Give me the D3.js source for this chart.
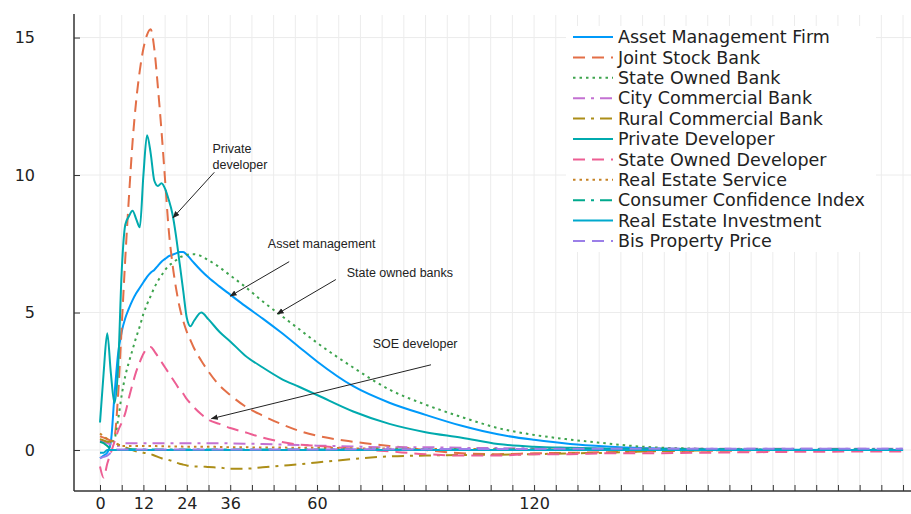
<!DOCTYPE html>
<html><head><meta charset="utf-8">
<script src="https://cdn.jsdelivr.net/npm/d3@7"></script>
<style>body{margin:0;background:#fff}svg{display:block}</style>
</head><body><svg id="c" width="911" height="514"></svg>
<script>
// ---------- DATA ----------
const months = [0,1,2,3,4,5,6,7,8,9,10,11,12,13,14,15,16,17,18,19,20,21,22,23,24,25,26,28,30,33,36,40,45,50,55,60,70,80,90,100,110,120,130,140,150,165,180,200,222];

const assetManagement = [-0.3,-0.2,-0.1,0.3,2.0,3.5,4.3,4.8,5.15,5.45,5.7,5.9,6.1,6.3,6.45,6.55,6.7,6.85,6.95,7.05,7.1,7.15,7.2,7.2,7.1,6.95,6.8,6.52,6.27,5.95,5.65,5.25,4.78,4.28,3.75,3.22,2.32,1.72,1.28,0.88,0.57,0.37,0.22,0.13,0.07,0.03,0.01,0,0];
const jointStockBank = [0.5,0.45,0.4,0.35,0.5,2.0,4.5,7.0,9.2,11.2,12.7,13.8,14.6,15.1,15.3,14.6,13.2,11.6,9.8,8.0,6.8,5.9,5.2,4.7,4.3,4.0,3.7,3.25,2.85,2.35,2.0,1.6,1.25,0.95,0.7,0.52,0.3,0.15,0.0,-0.12,-0.15,-0.12,-0.1,-0.08,-0.05,-0.03,-0.02,0,0];
const stateOwnedBank = [0.3,0.3,0.3,0.25,0.4,1.1,2.0,2.7,3.2,3.65,4.1,4.5,4.95,5.3,5.6,5.9,6.15,6.35,6.55,6.7,6.8,6.9,7.0,7.05,7.1,7.12,7.12,7.05,6.9,6.65,6.35,5.95,5.4,4.9,4.4,3.9,3.0,2.2,1.65,1.2,0.8,0.55,0.38,0.24,0.12,0.05,0.02,0,0];
const cityCommercialBank = [0.35,0.3,0.25,0.2,0.15,0.15,0.2,0.25,0.25,0.25,0.25,0.25,0.25,0.25,0.25,0.25,0.25,0.25,0.25,0.25,0.25,0.25,0.25,0.25,0.25,0.25,0.25,0.25,0.25,0.25,0.24,0.23,0.22,0.2,0.18,0.16,0.13,0.1,0.1,0.08,0.07,0.06,0.05,0.05,0.05,0.05,0.05,0.05,0.05];
const ruralCommercialBank = [0.4,0.35,0.3,0.3,0.25,0.2,0.15,0.1,0.05,0.0,-0.05,-0.08,-0.1,-0.12,-0.15,-0.2,-0.25,-0.3,-0.33,-0.36,-0.4,-0.45,-0.5,-0.53,-0.56,-0.58,-0.6,-0.6,-0.62,-0.64,-0.68,-0.68,-0.63,-0.57,-0.52,-0.45,-0.33,-0.23,-0.2,-0.18,-0.17,-0.15,-0.12,-0.1,-0.05,-0.02,0,0,0];
const privateDeveloper = [1.0,2.8,4.25,2.8,1.7,3.0,6.5,8.2,8.5,8.7,8.4,8.1,10.0,11.45,10.8,9.8,9.6,9.7,9.5,9.1,8.6,7.8,6.8,5.8,4.8,4.5,4.7,5.0,4.75,4.3,3.95,3.45,3.0,2.6,2.3,2.0,1.4,0.95,0.65,0.45,0.22,0.12,0.08,0.05,0.03,0.02,0.01,0,0];
const stateOwnedDeveloper = [-0.6,-1.0,-0.5,-0.1,0.3,0.7,1.0,1.35,1.9,2.4,2.85,3.2,3.5,3.7,3.75,3.6,3.4,3.2,3.0,2.8,2.6,2.4,2.2,2.05,1.85,1.7,1.55,1.3,1.1,0.95,0.8,0.65,0.45,0.3,0.2,0.15,0.05,-0.05,-0.15,-0.2,-0.2,-0.15,-0.15,-0.12,-0.12,-0.1,-0.08,-0.06,-0.05];
const realEstateService = [0.6,0.5,0.4,0.35,0.3,0.2,0.15,0.15,0.15,0.15,0.15,0.15,0.15,0.15,0.15,0.15,0.14,0.14,0.14,0.13,0.13,0.13,0.13,0.12,0.12,0.12,0.12,0.12,0.12,0.11,0.1,0.1,0.09,0.09,0.08,0.08,0.06,0.05,0.04,0.04,0.03,0.02,0.01,0,0,0,0,0,0];
const consumerConfidence = [0.3,0.25,0.15,0.05,0.02,0.0,0.0,0.02,0.03,0.03,0.03,0.03,0.02,0.02,0.02,0.02,0.02,0.02,0.02,0.02,0.02,0.02,0.02,0.02,0.02,0.02,0.02,0.02,0.02,0.02,0.02,0.02,0.02,0.02,0.02,0.02,0.02,0.02,0.02,0.02,0.02,0.02,0.02,0.02,0.02,0.03,0.03,0.03,0.03];
const realEstateInvestment = [-0.1,-0.1,0,0,0,0,0,0,0,0,0,0,0,0,0,0,0,0,0,0,0,0,0,0,0,0,0,0,0,0,0,0,0,0,0,0,0,0,0,0,0,0,0,0,0,0,0,0,0];
const bisPropertyPrice = [-0.3,-0.25,-0.2,-0.1,0,0.02,0.02,0.02,0.02,0.02,0.02,0.02,0.02,0.02,0.02,0.02,0.02,0.02,0.02,0.02,0.02,0.02,0.02,0.02,0.02,0.02,0.02,0.02,0.02,0.02,0.02,0.02,0.02,0.02,0.02,0.02,0.03,0.03,0.03,0.04,0.04,0.04,0.05,0.05,0.05,0.05,0.05,0.05,0.05];

const seriesNames = ["Asset Management Firm","Joint Stock Bank","State Owned Bank","City Commercial Bank","Rural Commercial Bank","Private Developer","State Owned Developer","Real Estate Service","Consumer Confidence Index","Real Estate Investment","Bis Property Price"];
const seriesValues = [assetManagement,jointStockBank,stateOwnedBank,cityCommercialBank,ruralCommercialBank,privateDeveloper,stateOwnedDeveloper,realEstateService,consumerConfidence,realEstateInvestment,bisPropertyPrice];
const seriesColors = ["#009AFA","#E36F47","#3EA44E","#C371D2","#AC8E18","#00AAAE","#ED5E93","#C68225","#00A98D","#00A9CD","#9B7FE8"];
const seriesStyles = ["solid","dash","dot","dashdot","dashdot","solid","dash","dot","dashdot","solid","dash"];

const xTickValues = d3.range(0, 223, 6);
const xTickLabels = [0,12,24,36,60,120];
const yTickValues = [0,5,10,15];

// annotation texts and arrows, anchored in data space (month, value)
const annoText = [
  {lines:["Private","developer"], m:31.1, v:10.8, fm:31.6, fv:10.1, tm:20.2, tv:8.45},
  {lines:["Asset management"], m:46.4, v:7.35, fm:52.3, fv:6.85, tm:36.0, tv:5.6},
  {lines:["State owned banks"], m:68.2, v:6.3, fm:65.2, fv:6.2, tm:49.0, tv:4.95},
  {lines:["SOE developer"], m:75.4, v:3.7, fm:91.5, fv:3.1, tm:30.8, tv:1.14}
];

// ---------- DRAW ----------
const svg = d3.select("#c");
const x = d3.scaleLinear().domain([-7.19, 224.2]).range([74, 911]);
const y = d3.scaleLinear().domain([-1.49, 15.82]).range([491, 15]);
const dashes = {solid:null, dash:"12,7", dot:"2.5,4", dashdot:"12,6,3,6"};

// grid
svg.append("g").selectAll("line").data(xTickValues).join("line")
  .attr("x1", d=>x(d)).attr("x2", d=>x(d)).attr("y1", 15).attr("y2", 491)
  .attr("stroke", "#ececec").attr("stroke-width", 1);
svg.append("g").selectAll("line").data(yTickValues).join("line")
  .attr("x1", 74).attr("x2", 911).attr("y1", d=>y(d)).attr("y2", d=>y(d))
  .attr("stroke", "#ececec").attr("stroke-width", 1);

// lines
const line = d3.line().curve(d3.curveMonotoneX);
const gLines = svg.append("g");
seriesValues.forEach((vals, i) => {
  const pts = months.map((m, j) => [x(m), y(vals[j])]);
  gLines.append("path").attr("d", line(pts)).attr("fill", "none")
    .attr("stroke", seriesColors[i]).attr("stroke-width", 2)
    .attr("stroke-dasharray", dashes[seriesStyles[i]]);
});

// axes
const xAxis = d3.axisBottom(x).tickValues(xTickValues).tickSize(-6).tickPadding(7)
  .tickFormat(d => xTickLabels.includes(d) ? d : "");
const gx = svg.append("g").attr("transform", "translate(0,491)").call(xAxis);
const yAxis = d3.axisLeft(y).tickValues(yTickValues).tickSize(-6).tickPadding(39);
const gy = svg.append("g").attr("transform", "translate(74,0)").call(yAxis);
[gx, gy].forEach(g => {
  g.select(".domain").remove();
  g.selectAll(".tick line").attr("stroke", "#333").attr("stroke-width", 1);
  g.selectAll("text").attr("font-family", "DejaVu Sans").attr("font-size", 16).attr("fill", "#222");
});
svg.append("line").attr("x1", 74).attr("x2", 911).attr("y1", 491).attr("y2", 491).attr("stroke", "#333").attr("stroke-width", 1.5);
svg.append("line").attr("x1", 74).attr("x2", 74).attr("y1", 14).attr("y2", 491).attr("stroke", "#333").attr("stroke-width", 1.5);

// legend
const lg = svg.append("g");
lg.append("rect").attr("x", 566).attr("y", 26).attr("width", 310).attr("height", 226).attr("fill", "#fff");
seriesNames.forEach((name, i) => {
  const cy = 37 + i * 20.4;
  lg.append("line").attr("x1", 573).attr("x2", 613).attr("y1", cy).attr("y2", cy)
    .attr("stroke", seriesColors[i]).attr("stroke-width", 2)
    .attr("stroke-dasharray", dashes[seriesStyles[i]]);
  lg.append("text").attr("x", 618).attr("y", cy).attr("dy", "0.35em")
    .attr("font-family", "DejaVu Sans").attr("font-size", 17.5).attr("fill", "#222").text(name);
});

// annotations
const defs = svg.append("defs");
defs.append("marker").attr("id", "ah").attr("viewBox", "0 0 10 10").attr("refX", 9).attr("refY", 5)
  .attr("markerWidth", 7).attr("markerHeight", 7).attr("orient", "auto-start-reverse")
  .append("path").attr("d", "M0,1 L10,5 L0,9 z").attr("fill", "#222");
const ga = svg.append("g");
annoText.forEach(a => {
  const t = ga.append("text").attr("x", x(a.m)).attr("y", y(a.v))
    .attr("font-family", "Liberation Sans, Arial, sans-serif").attr("font-size", 12.5).attr("fill", "#222");
  a.lines.forEach((l, k) => t.append("tspan").attr("x", x(a.m)).attr("dy", k ? 16 : 0).text(l));
  ga.append("line").attr("x1", x(a.fm)).attr("y1", y(a.fv)).attr("x2", x(a.tm)).attr("y2", y(a.tv))
    .attr("stroke", "#222").attr("stroke-width", 1).attr("marker-end", "url(#ah)");
});
</script></body></html>
